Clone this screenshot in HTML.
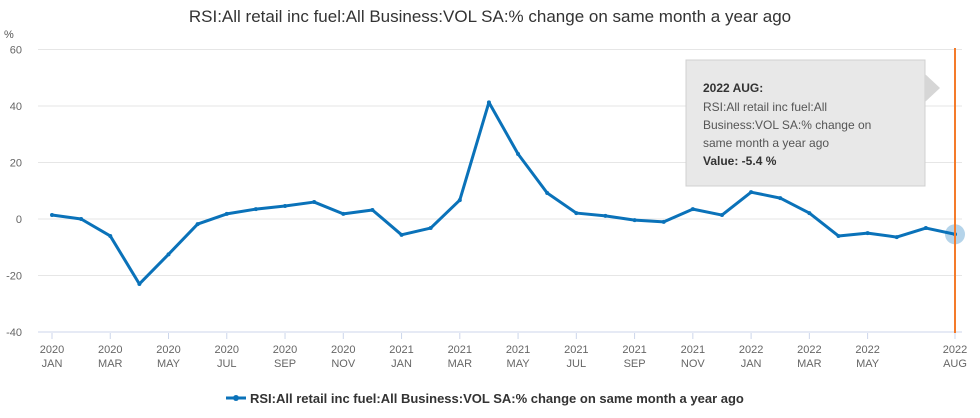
<!DOCTYPE html>
<html><head><meta charset="utf-8"><style>
body{margin:0;background:#fff;font-family:"Liberation Sans",sans-serif;}
svg text{font-family:"Liberation Sans",sans-serif;}
</style></head><body>
<svg width="980" height="413" id="chart">
<text x="490" y="22" text-anchor="middle" font-size="17" fill="#333">RSI:All retail inc fuel:All Business:VOL SA:% change on same month a year ago</text>
<text x="4" y="38" font-size="11" fill="#555">%</text>
<g id="grid"></g><g id="xaxis"></g><g id="series"></g>
<line x1="955" y1="48" x2="955" y2="333" stroke="#f47b2a" stroke-width="2"/>
<g>
<rect x="686" y="60" width="239" height="126" fill="#e8e8e8" stroke="#d0d0d0"/>
<polygon points="925,74 940,88 925,102" fill="#d6d6d6"/>
<text x="703" y="92" font-size="12" font-weight="bold" fill="#333">2022 AUG:</text>
<text x="703" y="111" font-size="12" fill="#555">RSI:All retail inc fuel:All</text>
<text x="703" y="129" font-size="12" fill="#555">Business:VOL SA:% change on</text>
<text x="703" y="147" font-size="12" fill="#555">same month a year ago</text>
<text x="703" y="165" font-size="12" font-weight="bold" fill="#333">Value: -5.4 %</text>
</g>
<g>
<line x1="226" y1="398" x2="246" y2="398" stroke="#0a72b9" stroke-width="3"/>
<circle cx="236" cy="398" r="3" fill="#0a72b9"/>
<text x="250" y="403" font-size="13" font-weight="bold" fill="#333">RSI:All retail inc fuel:All Business:VOL SA:% change on same month a year ago</text>
</g>
</svg>
<script>
const months=["JAN","FEB","MAR","APR","MAY","JUN","JUL","AUG","SEP","OCT","NOV","DEC"];
const startYear=2020;
const values=[1.4,0,-6,-23,-12.5,-1.8,1.8,3.5,4.6,6,1.8,3.2,-5.6,-3.2,6.7,41.3,23,9.2,2.1,1.1,-0.4,-1,3.5,1.4,9.5,7.4,2.1,-6,-5,-6.4,-3.2,-5.4];
const yTicks=[60,40,20,0,-20,-40];
const NS="http://www.w3.org/2000/svg";
const x=i=>52+i*(955-52)/(values.length-1);
const y=v=>219-v*(219-49.5)/60;
function mk(t,a,p){const e=document.createElementNS(NS,t);for(const k in a)e.setAttribute(k,a[k]);p.appendChild(e);return e;}
const grid=document.getElementById('grid');
yTicks.forEach(t=>{
 const l=mk('line',{x1:38,x2:962,y1:y(t),y2:y(t),stroke:t===-40?'#ccd6eb':'#e6e6e6'},grid);
 
 
 const tx=mk('text',{x:22,y:y(t)+4,'text-anchor':'end','font-size':11,fill:'#666'},grid);
 tx.textContent=t;
 
 
});
const xa=document.getElementById('xaxis');
values.forEach((v,i)=>{
 if(i%2!==0&&i!==values.length-1)return;
 if(i===values.length-2)return;
 mk('line',{x1:x(i),x2:x(i),y1:333,y2:339,stroke:'#ccd6eb'},xa);
 const yr=startYear+Math.floor(i/12);
 const t1=mk('text',{x:x(i),y:353,'text-anchor':'middle','font-size':11,fill:'#666'},xa);
 t1.textContent=yr;
 
 
 const t2=mk('text',{x:x(i),y:367,'text-anchor':'middle','font-size':11,fill:'#666'},xa);
 t2.textContent=months[i%12];
 
 
});
const s=document.getElementById('series');
const path=mk('polyline',{points:values.map((v,i)=>x(i)+','+y(v)).join(' '),fill:'none',stroke:'#0a72b9','stroke-width':3,'stroke-linejoin':'round'},s);


values.forEach((v,i)=>{
 const c=mk('circle',{cx:x(i),cy:y(v),r:2,fill:'#0a72b9'},s);
 
 
});
const last=values.length-1;
const h=mk('circle',{cx:x(last),cy:y(values[last]),r:10,fill:'rgba(10,114,185,0.3)'},s);


</script>
</body></html>
